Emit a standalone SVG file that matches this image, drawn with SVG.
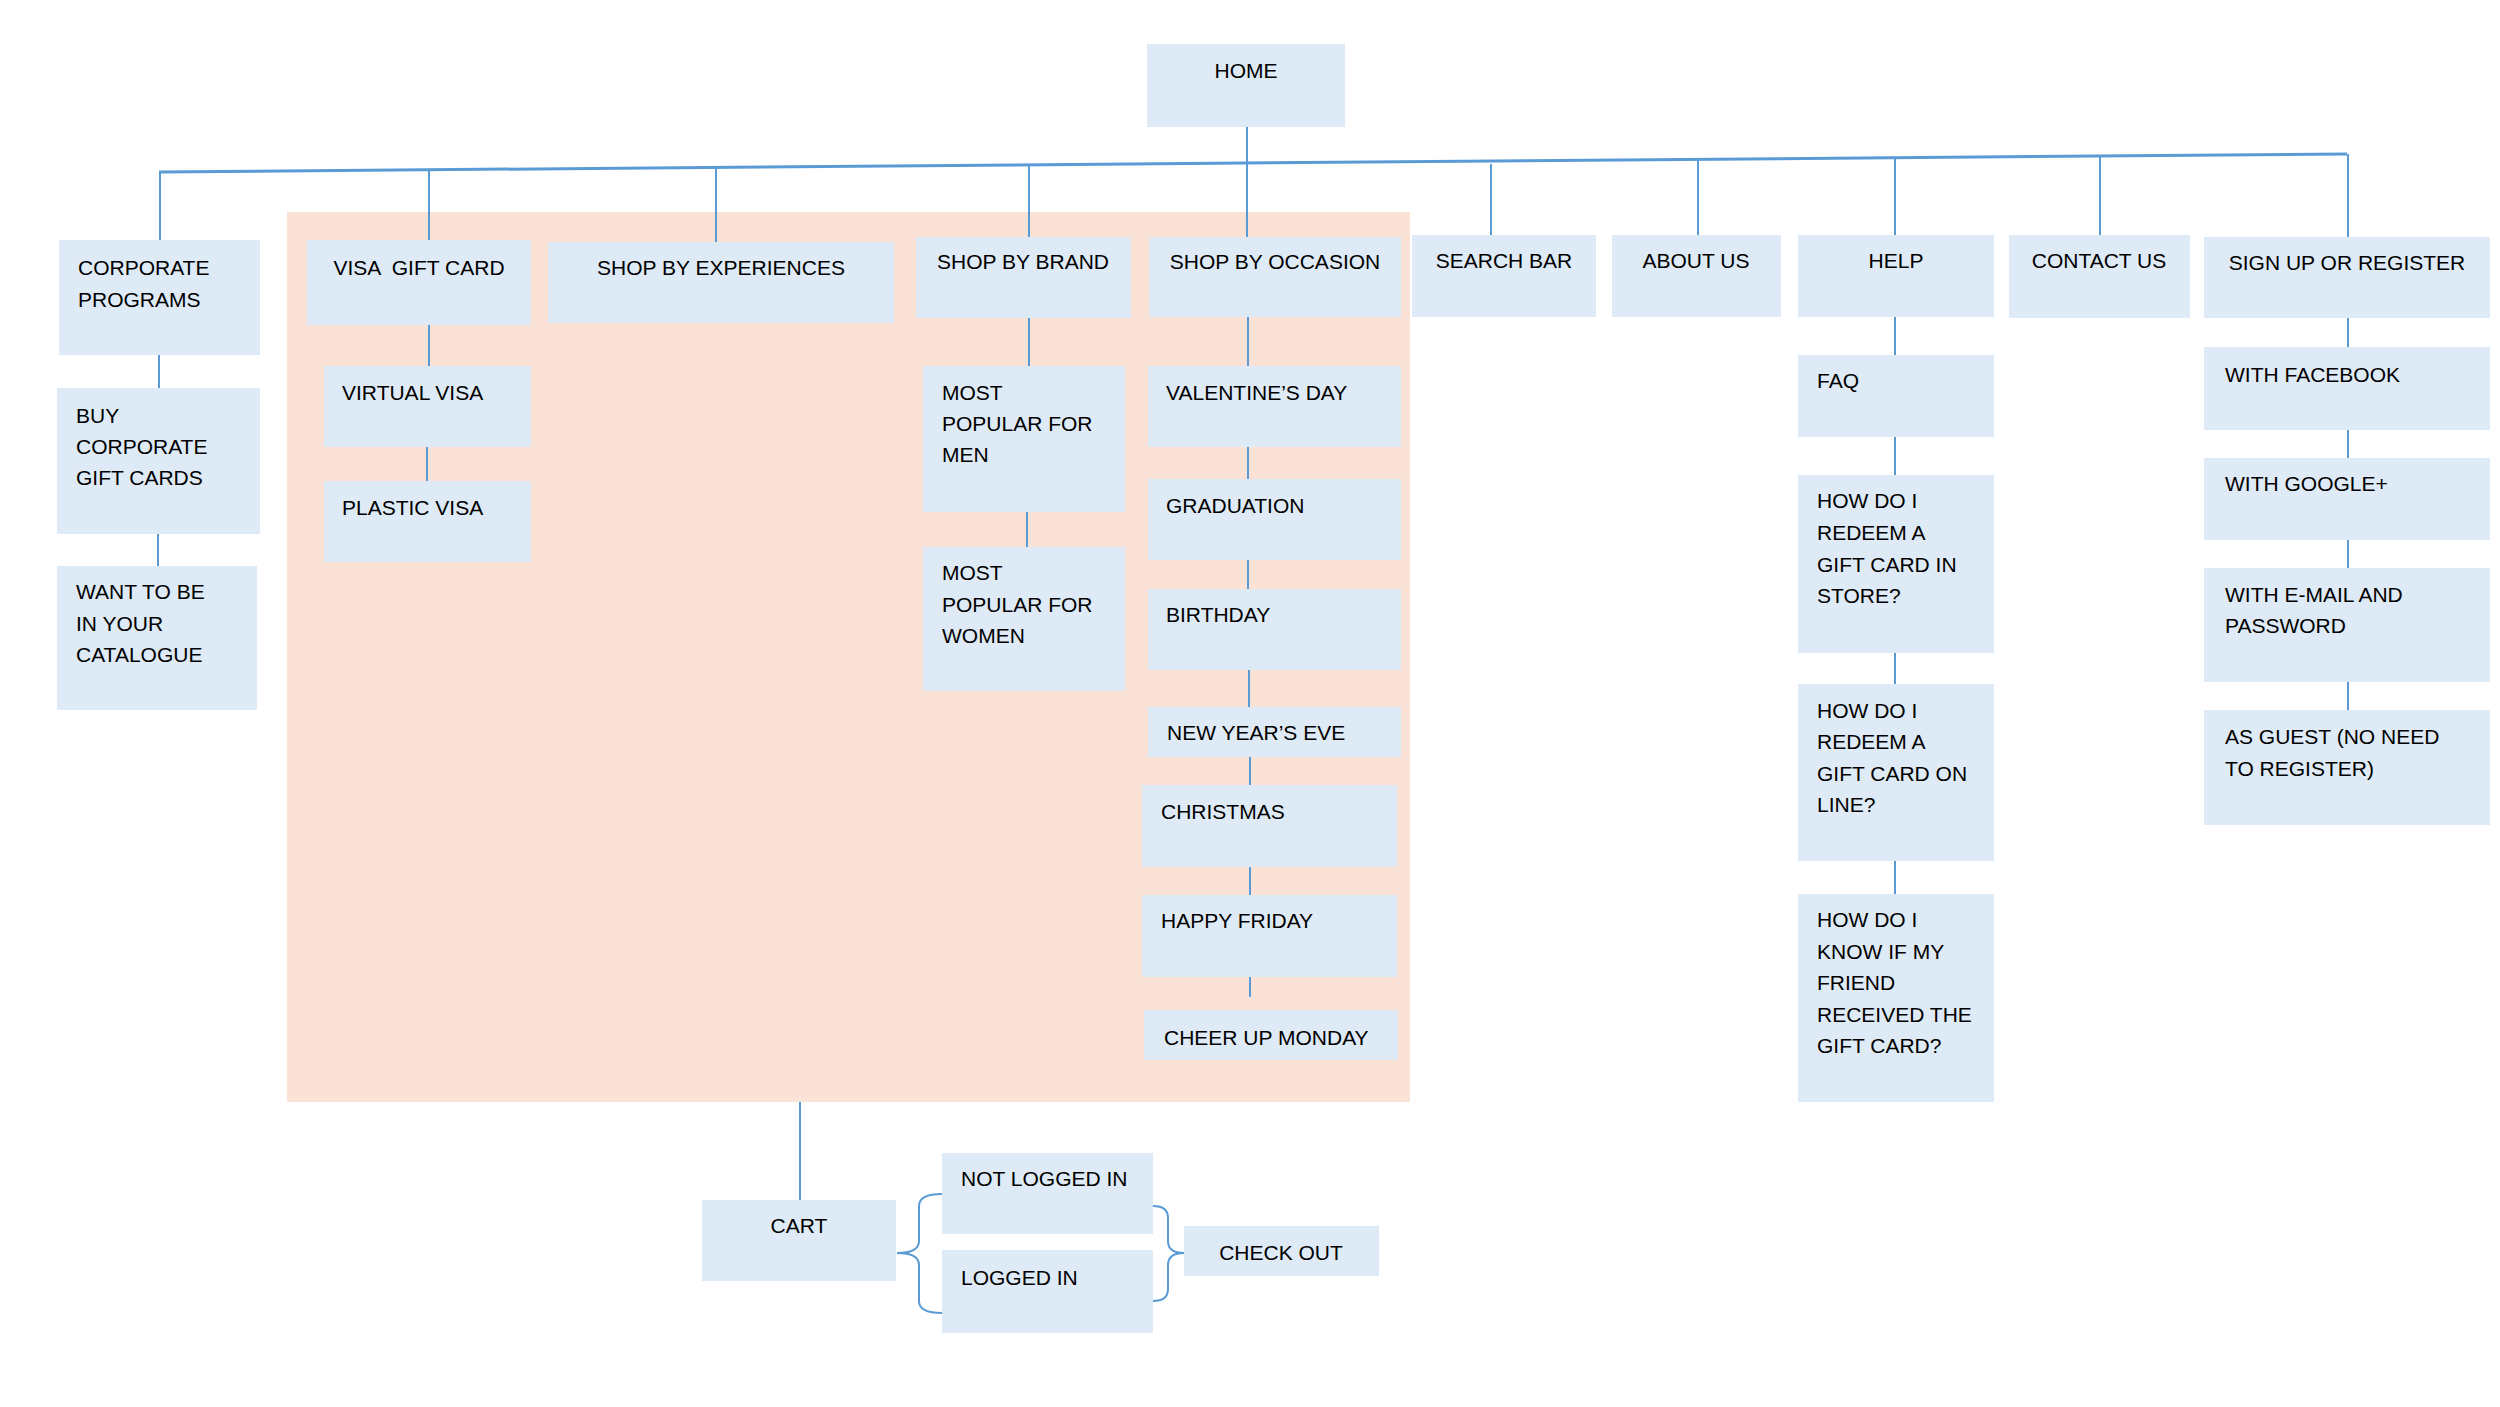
<svg xmlns="http://www.w3.org/2000/svg" width="2500" height="1407" viewBox="0 0 2500 1407">
<style>
.bg{fill:#FAE3D6}
.n{fill:#DEEAF6}
.c{stroke:#5B9BD5;stroke-width:2;fill:none}
.bus{stroke:#5B9BD5;stroke-width:3;fill:none}
text{font-family:"Liberation Sans",Arial,sans-serif;font-size:21px;fill:#000}
.m{text-anchor:middle}
</style>
<rect class="bg" x="287" y="212" width="1123" height="890"/>
<g id="connectors">
<path class="bus" d="M159 172 L2347 154"/>
<path class="c" d="M1247 127 V237"/>
<path class="c" d="M160 172 V240 M429 170 V240 M716 166 V242 M1029 165 V237 M1491 164 V235 M1698 160 V235 M1895 159 V235 M2100 157 V235 M2348 154 V237"/>
<path class="c" d="M159 355 V388 M158 534 V566"/>
<path class="c" d="M429 325 V366 M427 447 V481"/>
<path class="c" d="M1029 318 V366 M1027 512 V547"/>
<path class="c" d="M1248 317 V366 M1248 447 V479 M1248 560 V589 M1249 670 V707 M1250 757 V785 M1250 867 V895 M1250 977 V997"/>
<path class="c" d="M1895 317 V355 M1895 437 V475 M1895 653 V684 M1895 861 V894"/>
<path class="c" d="M2348 318 V347 M2348 430 V458 M2348 540 V568 M2348 682 V710"/>
<path class="c" d="M800 1102 V1200"/>
<path class="c" d="M942 1194 Q919 1194 919 1206 L919 1241 Q919 1253 897 1253 Q919 1253 919 1265 L919 1301 Q919 1313 942 1313"/>
<path class="c" d="M1153 1206 Q1168 1206 1168 1218 L1168 1241 Q1168 1253 1184 1253 Q1168 1253 1168 1265 L1168 1289 Q1168 1301 1153 1301"/>
</g>
<g id="home"><rect class="n" x="1147" y="44" width="198" height="83"/><text class="m" x="1246" y="78">HOME</text></g>
<g id="corporate"><rect class="n" x="59" y="240" width="201" height="115"/><text x="78" y="275">CORPORATE</text><text x="78" y="307">PROGRAMS</text></g>
<g id="buy-corporate"><rect class="n" x="57" y="388" width="203" height="146"/><text x="76" y="423">BUY</text><text x="76" y="454">CORPORATE</text><text x="76" y="485">GIFT CARDS</text></g>
<g id="catalogue"><rect class="n" x="57" y="566" width="200" height="144"/><text x="76" y="599">WANT TO BE</text><text x="76" y="631">IN YOUR</text><text x="76" y="662">CATALOGUE</text></g>
<g id="visa"><rect class="n" x="307" y="240" width="224" height="85"/><text class="m" x="419" y="275" style="white-space:pre">VISA  GIFT CARD</text></g>
<g id="virtual-visa"><rect class="n" x="324" y="366" width="207" height="81"/><text x="342" y="400">VIRTUAL VISA</text></g>
<g id="plastic-visa"><rect class="n" x="324" y="481" width="207" height="81"/><text x="342" y="515">PLASTIC VISA</text></g>
<g id="experiences"><rect class="n" x="548" y="242" width="346" height="81"/><text class="m" x="721" y="275">SHOP BY EXPERIENCES</text></g>
<g id="brand"><rect class="n" x="916" y="237" width="215" height="81"/><text class="m" x="1023" y="269">SHOP BY BRAND</text></g>
<g id="men"><rect class="n" x="923" y="366" width="202" height="146"/><text x="942" y="400">MOST</text><text x="942" y="431">POPULAR FOR</text><text x="942" y="462">MEN</text></g>
<g id="women"><rect class="n" x="923" y="547" width="202" height="144"/><text x="942" y="580">MOST</text><text x="942" y="612">POPULAR FOR</text><text x="942" y="643">WOMEN</text></g>
<g id="occasion"><rect class="n" x="1149" y="237" width="252" height="80"/><text class="m" x="1275" y="269">SHOP BY OCCASION</text></g>
<g id="valentines"><rect class="n" x="1148" y="366" width="253" height="81"/><text x="1166" y="400">VALENTINE’S DAY</text></g>
<g id="graduation"><rect class="n" x="1148" y="479" width="253" height="81"/><text x="1166" y="513">GRADUATION</text></g>
<g id="birthday"><rect class="n" x="1148" y="589" width="253" height="81"/><text x="1166" y="622">BIRTHDAY</text></g>
<g id="new-years-eve"><rect class="n" x="1148" y="707" width="253" height="50"/><text x="1167" y="740">NEW YEAR’S EVE</text></g>
<g id="christmas"><rect class="n" x="1142" y="785" width="255" height="82"/><text x="1161" y="819">CHRISTMAS</text></g>
<g id="happy-friday"><rect class="n" x="1142" y="895" width="255" height="82"/><text x="1161" y="928">HAPPY FRIDAY</text></g>
<g id="cheer-up-monday"><rect class="n" x="1144" y="1010" width="254" height="50"/><text x="1164" y="1045">CHEER UP MONDAY</text></g>
<g id="search"><rect class="n" x="1412" y="235" width="184" height="82"/><text class="m" x="1504" y="268">SEARCH BAR</text></g>
<g id="about"><rect class="n" x="1612" y="235" width="169" height="82"/><text class="m" x="1696" y="268">ABOUT US</text></g>
<g id="help"><rect class="n" x="1798" y="235" width="196" height="82"/><text class="m" x="1896" y="268">HELP</text></g>
<g id="faq"><rect class="n" x="1798" y="355" width="196" height="82"/><text x="1817" y="388">FAQ</text></g>
<g id="q-store"><rect class="n" x="1798" y="475" width="196" height="178"/><text x="1817" y="508">HOW DO I</text><text x="1817" y="540">REDEEM A</text><text x="1817" y="572">GIFT CARD IN</text><text x="1817" y="603">STORE?</text></g>
<g id="q-online"><rect class="n" x="1798" y="684" width="196" height="177"/><text x="1817" y="718">HOW DO I</text><text x="1817" y="749">REDEEM A</text><text x="1817" y="781">GIFT CARD ON</text><text x="1817" y="812">LINE?</text></g>
<g id="q-friend"><rect class="n" x="1798" y="894" width="196" height="208"/><text x="1817" y="927">HOW DO I</text><text x="1817" y="959">KNOW IF MY</text><text x="1817" y="990">FRIEND</text><text x="1817" y="1022">RECEIVED THE</text><text x="1817" y="1053">GIFT CARD?</text></g>
<g id="contact"><rect class="n" x="2009" y="235" width="181" height="83"/><text class="m" x="2099" y="268">CONTACT US</text></g>
<g id="signup"><rect class="n" x="2204" y="237" width="286" height="81"/><text class="m" x="2347" y="270">SIGN UP OR REGISTER</text></g>
<g id="facebook"><rect class="n" x="2204" y="347" width="286" height="83"/><text x="2225" y="382">WITH FACEBOOK</text></g>
<g id="google"><rect class="n" x="2204" y="458" width="286" height="82"/><text x="2225" y="491">WITH GOOGLE+</text></g>
<g id="email"><rect class="n" x="2204" y="568" width="286" height="114"/><text x="2225" y="602">WITH E-MAIL AND</text><text x="2225" y="633">PASSWORD</text></g>
<g id="guest"><rect class="n" x="2204" y="710" width="286" height="115"/><text x="2225" y="744">AS GUEST (NO NEED</text><text x="2225" y="776">TO REGISTER)</text></g>
<g id="cart"><rect class="n" x="702" y="1200" width="194" height="81"/><text class="m" x="799" y="1233">CART</text></g>
<g id="not-logged-in"><rect class="n" x="942" y="1153" width="211" height="81"/><text x="961" y="1186">NOT LOGGED IN</text></g>
<g id="logged-in"><rect class="n" x="942" y="1250" width="211" height="83"/><text x="961" y="1285">LOGGED IN</text></g>
<g id="check-out"><rect class="n" x="1184" y="1226" width="195" height="50"/><text class="m" x="1281" y="1260">CHECK OUT</text></g>
</svg>
